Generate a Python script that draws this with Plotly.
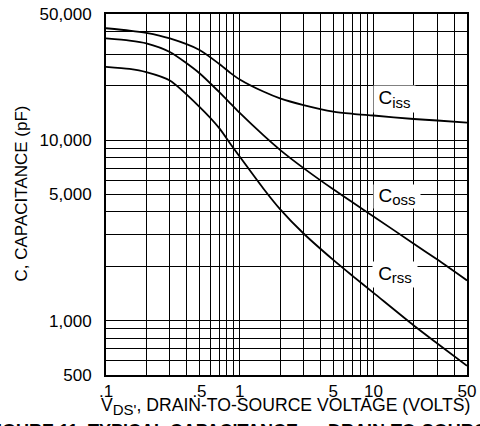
import plotly.graph_objects as go

# ---- data ----
vds = [0.1, 0.15, 0.2, 0.3, 0.5, 0.7, 0.85, 1.0, 1.5, 2.0, 3.0, 5.0, 7.0, 10.0, 20.0, 30.0, 50.0]
ciss = [41700, 40500, 39300, 36600, 31600, 26500, 23600, 21700, 18600, 17050, 15650, 14400, 14000, 13700, 13100, 12850, 12500]
coss = [36600, 35600, 34400, 30800, 23500, 18500, 16000, 14150, 10660, 8840, 7000, 5340, 4510, 3780, 2670, 2180, 1670]
crss = [25500, 24800, 23800, 21400, 15300, 11700, 9560, 8100, 5400, 4150, 3040, 2170, 1765, 1425, 940, 747, 562]

series_names = ["C<sub>iss</sub>", "C<sub>oss</sub>", "C<sub>rss</sub>"]
label_text = ["C<sub><span style='font-size:15px'>iss</span></sub>",
              "C<sub><span style='font-size:15px'>oss</span></sub>",
              "C<sub><span style='font-size:15px'>rss</span></sub>"]

x_grid = [0.1, 0.2, 0.3, 0.4, 0.5, 0.6, 0.7, 0.8, 0.9, 1, 2, 3, 4, 5, 6, 7, 8, 9, 10, 20, 30, 40, 50]
x_labels = {0.1: ".1", 0.5: ".5", 1: "1", 5: "5", 10: "10", 50: "50"}
y_grid = [500, 600, 700, 800, 900, 1000, 2000, 3000, 4000, 5000, 6000, 7000, 8000, 9000,
          10000, 20000, 30000, 40000, 50000]
y_labels = {500: "500", 1000: "1,000", 5000: "5,000", 10000: "10,000", 50000: "50,000"}

x_title = "V<sub><span style='font-size:15px'>DS'</span></sub>, DRAIN-TO-SOURCE VOLTAGE (VOLTS)"
y_title = "C, CAPACITANCE (pF)"
caption = "<b>FIGURE 11. TYPICAL CAPACITANCE vs DRAIN-TO-SOURCE VOLTAGE</b>"

FONT = "Liberation Sans, Arial, sans-serif"

fig = go.Figure()
for name, ys in zip(series_names, [ciss, coss, crss]):
    fig.add_trace(go.Scatter(x=vds, y=ys, mode="lines", name=name,
                             line=dict(color="black", width=1.8, shape="spline", smoothing=0.7),
                             hoverinfo="skip"))

fig.update_layout(
    width=480, height=426,
    margin=dict(l=106, r=13, t=14, b=51, autoexpand=False),
    paper_bgcolor="white", plot_bgcolor="white",
    showlegend=False,
    font=dict(family=FONT, size=17, color="black"),
)
fig.update_xaxes(type="log", range=[-1, 1.69897], tickvals=x_grid,
                 ticktext=[x_labels.get(v, "") for v in x_grid],
                 showgrid=True, gridcolor="black", gridwidth=1,
                 showline=True, linecolor="black", linewidth=2, mirror=True,
                 ticks="", zeroline=False, ticklabelstandoff=0, automargin=False,
                 tickfont=dict(size=17))
fig.update_yaxes(type="log", range=[2.69897, 4.69897], tickvals=y_grid,
                 ticktext=[y_labels.get(v, "") for v in y_grid],
                 showgrid=True, gridcolor="black", gridwidth=1,
                 showline=True, linecolor="black", linewidth=2, mirror=True,
                 ticks="", zeroline=False, ticklabelstandoff=9, automargin=False,
                 tickfont=dict(size=17))

# curve labels (white boxes hiding the grid)
boxes = [(394.5, 99, 41, 26), (396.5, 196.5, 46, 23), (395, 274.5, 44, 25)]
for txt, (cx, cy, w, h) in zip(label_text, boxes):
    fig.add_annotation(text=txt, xref="paper", yref="paper",
                       x=(cx - 106) / 361, y=(375 - cy) / 361,
                       xanchor="center", yanchor="middle", showarrow=False,
                       width=w, height=h, bgcolor="white", borderpad=0,
                       font=dict(size=19, family=FONT))

fig.add_annotation(text=x_title, xref="paper", yref="paper",
                   x=0.4986, y=(375 - 406) / 361, xanchor="center", yanchor="middle",
                   showarrow=False, font=dict(size=17.6, family=FONT))
fig.add_annotation(text=y_title, xref="paper", yref="paper",
                   x=(21 - 106) / 361, y=(375 - 193.5) / 361, xanchor="center", yanchor="middle",
                   textangle=-90, showarrow=False, font=dict(size=17, family=FONT))
fig.add_annotation(text=caption, xref="paper", yref="paper",
                   x=(-16 - 106) / 361, y=(375 - 418.5) / 361, xanchor="left", yanchor="top",
                   showarrow=False, font=dict(size=18, family=FONT))

fig.write_html("out.html", config={"displayModeBar": False},
               post_script="document.body.style.margin='0';document.body.style.overflow='hidden';")
